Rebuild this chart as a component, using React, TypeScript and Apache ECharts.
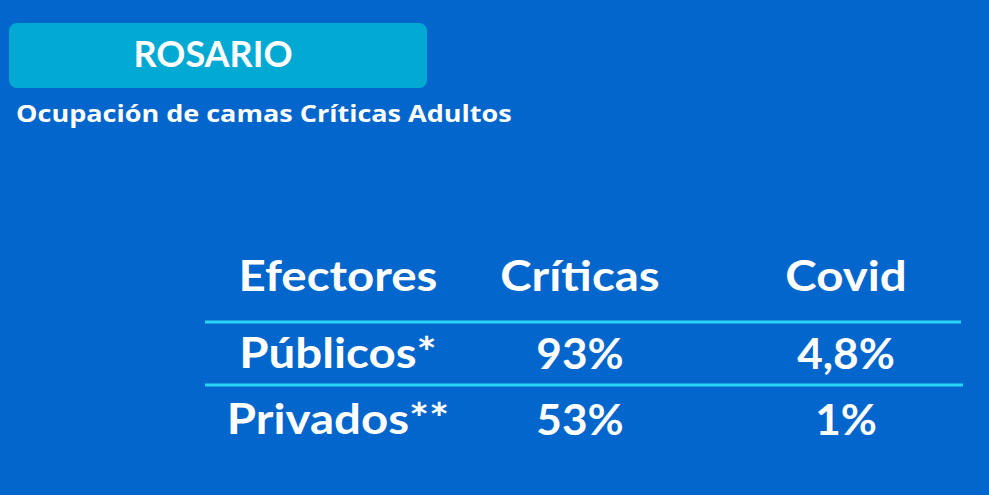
import React, { useEffect, useRef } from "react";
import * as echarts from "echarts";

const title = "ROSARIO";
const subtitle = "Ocupación de camas Críticas Adultos";
const headers = ["Efectores", "Críticas", "Covid"];
const effectors = ["Públicos*", "Privados**"];
const criticas = ["93%", "53%"];
const covid = ["4,8%", "1%"];

const FONT = "Lato, 'Open Sans', sans-serif";
const SUB_FONT = "'Open Sans', Lato, sans-serif";

function measure(text: string, font: string): number {
  const c = document.createElement("canvas").getContext("2d");
  if (!c) return 1;
  c.font = font;
  return c.measureText(text).width || 1;
}

export default function App() {
  const ref = useRef<HTMLDivElement>(null);
  useEffect(() => {
    if (!ref.current) return;
    const chart = echarts.init(ref.current, undefined, { renderer: "svg" });
    const colX = [338, 580, 846];
    const rowY = [275, 352, 418];
    const rows = [headers, ...effectors.map((e, i) => [e, criticas[i], covid[i]])];
    const cells: any[] = [];
    rows.forEach((r, ri) => {
      r.forEach((t, ci) => {
        cells.push({
          type: "text",
          x: colX[ci],
          y: rowY[ri],
          scaleX: ci === 0 || ri === 0 ? 1.13 : 1.05,
          style: {
            text: t,
            fill: "#ffffff",
            font: `bold 42px ${FONT}`,
            textAlign: "center",
            textVerticalAlign: "middle",
          },
        });
      });
    });
    const subFont = `bold 23px ${SUB_FONT}`;
    const subScale = 496 / measure(subtitle, subFont);
    chart.setOption({
      animation: false,
      backgroundColor: "#0366cc",
      graphic: [
        {
          type: "rect",
          shape: { x: 9, y: 23, width: 418, height: 65, r: 8 },
          style: { fill: "#02aad3" },
        },
        {
          type: "text",
          x: 213,
          y: 53,
          style: {
            text: title,
            fill: "#ffffff",
            font: `bold 36px ${FONT}`,
            textAlign: "center",
            textVerticalAlign: "middle",
          },
        },
        {
          type: "text",
          x: 16,
          y: 113,
          scaleX: subScale,
          style: {
            text: subtitle,
            fill: "#ffffff",
            font: subFont,
            textAlign: "left",
            textVerticalAlign: "middle",
          },
        },
        {
          type: "line",
          shape: { x1: 205, y1: 322, x2: 961, y2: 322 },
          style: { stroke: "#2bd3f7", lineWidth: 3 },
        },
        {
          type: "line",
          shape: { x1: 205, y1: 385, x2: 963, y2: 385 },
          style: { stroke: "#2bd3f7", lineWidth: 3 },
        },
        ...cells,
      ],
    });
    return () => chart.dispose();
  }, []);
  return (
    <div
      ref={ref}
      style={{ position: "fixed", left: 0, top: 0, width: 989, height: 495 }}
    />
  );
}
